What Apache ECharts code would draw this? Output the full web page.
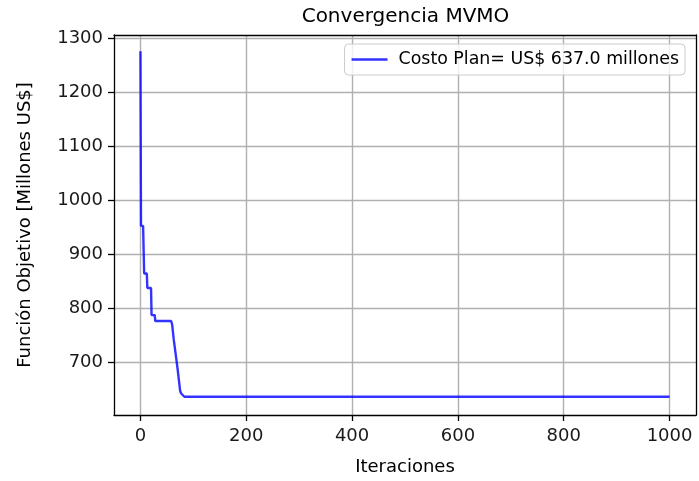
<!DOCTYPE html>
<html>
<head>
<meta charset="utf-8">
<script src="https://cdn.jsdelivr.net/npm/echarts@6/dist/echarts.min.js"></script>
<style>
html,body{margin:0;padding:0;background:#fff;}
#chart{width:699px;height:481px;}
</style>
</head>
<body>
<div id="chart"></div>
<script>
// Data
var iterations = [0, 1, 5, 7, 12, 13, 20, 21, 27, 28, 58, 60, 63, 66, 68, 70, 73, 75, 77, 80, 83, 1000];
var costs = [1276, 953, 953, 865, 865, 838, 838, 788, 788, 777, 777, 770, 742, 720, 705, 690, 665, 648, 643, 640, 637, 637];
var xTicks = [0, 200, 400, 600, 800, 1000];
var yTicks = [700, 800, 900, 1000, 1100, 1200, 1300];
var seriesName = 'Costo Plan= US$ 637.0 millones';
var chartTitle = 'Convergencia MVMO';
var xName = 'Iteraciones';
var yName = 'Función Objetivo [Millones US$]';

var points = iterations.map(function (x, i) { return [x, costs[i]]; });
function plain(v) { return String(v); }

var font = 'DejaVu Sans';
var frameLine = {show: true, onZero: false, lineStyle: {color: '#000', width: 1.3}};
var chart = echarts.init(document.getElementById('chart'), null, {renderer: 'canvas'});
chart.setOption({
  animation: false,
  backgroundColor: '#ffffff',
  title: {
    text: chartTitle,
    left: 405.5,
    textAlign: 'center',
    top: 7,
    padding: 0,
    textStyle: {fontFamily: font, fontSize: 20, fontWeight: 'normal', color: '#000'}
  },
  legend: {
    right: 14,
    top: 44,
    orient: 'horizontal',
    backgroundColor: 'rgba(255,255,255,0.8)',
    borderColor: '#cccccc',
    borderWidth: 1,
    borderRadius: 4,
    padding: [7, 6, 7, 7],
    itemWidth: 36,
    itemHeight: 2.5,
    itemGap: 12,
    icon: 'rect',
    textStyle: {fontFamily: font, fontSize: 17.4, color: '#000', padding: [0, 0, 0, 6]},
    data: [seriesName]
  },
  grid: {left: 114, right: 3, top: 35, bottom: 66, show: false},
  xAxis: [{
    type: 'value',
    min: -50,
    max: 1050,
    name: xName,
    nameLocation: 'middle',
    nameGap: 43,
    nameTextStyle: {fontFamily: font, fontSize: 18, color: '#000'},
    axisLine: frameLine,
    axisTick: {show: true, length: 6, inside: false, lineStyle: {color: '#000', width: 1.3}, customValues: xTicks},
    axisLabel: {fontFamily: font, fontSize: 18, color: '#1a1a1a', margin: 12, customValues: xTicks, formatter: plain},
    splitLine: {show: true, lineStyle: {color: '#b0b0b0', width: 1.4}}
  }, {
    type: 'value',
    position: 'top',
    min: -50,
    max: 1050,
    axisLine: frameLine,
    axisTick: {show: false},
    axisLabel: {show: false},
    splitLine: {show: false}
  }],
  yAxis: [{
    type: 'value',
    min: 603.2,
    max: 1306,
    name: yName,
    nameLocation: 'middle',
    nameRotate: 90,
    nameGap: 80,
    nameTextStyle: {fontFamily: font, fontSize: 18, color: '#000'},
    axisLine: frameLine,
    axisTick: {show: true, length: 6, inside: false, lineStyle: {color: '#000', width: 1.3}, customValues: yTicks},
    axisLabel: {fontFamily: font, fontSize: 18, color: '#1a1a1a', margin: 11, customValues: yTicks, formatter: plain},
    splitLine: {show: true, lineStyle: {color: '#b0b0b0', width: 1.4}}
  }, {
    type: 'value',
    position: 'right',
    min: 603.2,
    max: 1306,
    axisLine: frameLine,
    axisTick: {show: false},
    axisLabel: {show: false},
    splitLine: {show: false}
  }],
  series: [{
    name: seriesName,
    type: 'line',
    xAxisIndex: 0,
    yAxisIndex: 0,
    data: points,
    showSymbol: false,
    symbol: 'none',
    lineStyle: {color: 'rgba(0,0,255,0.8)', width: 2.4},
    itemStyle: {color: 'rgba(0,0,255,0.8)'}
  }]
});
</script>
</body>
</html>
